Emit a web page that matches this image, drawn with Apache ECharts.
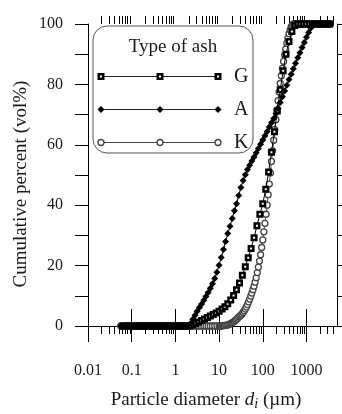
<!DOCTYPE html>
<html>
<head>
<meta charset="utf-8">
<script src="https://cdn.jsdelivr.net/npm/echarts@6/dist/echarts.min.js"></script>
<style>
  html, body { margin: 0; padding: 0; background: #fff; }
  #chart { width: 342px; height: 414px; }
</style>
</head>
<body>
<div id="chart"></div>
<script>
// particle diameters (um) and cumulative volume percent
const diamG = [0.0631, 0.0736, 0.0858,
  0.1, 0.117, 0.136, 0.158, 0.185, 0.215, 0.251, 0.293, 0.341, 0.398, 0.464, 0.541, 0.631, 0.736, 0.858,
  1, 1.17, 1.36, 1.58, 1.85, 2.15, 2.51, 2.93, 3.41, 3.98, 4.64, 5.41, 6.31, 7.36, 8.58,
  10, 11.7, 13.6, 15.8, 18.5, 21.5, 25.1, 29.3, 34.1, 39.8, 46.4, 54.1, 63.1, 73.6, 85.8,
  100, 117, 136, 158, 185, 215, 251, 293, 341, 398, 464, 541, 631, 736, 858,
  1000, 1170, 1360, 1580, 1850, 2150, 2510, 2930, 3410];
const cumG = [0, 0, 0,
  0, 0, 0, 0, 0, 0, 0, 0, 0, 0, 0, 0, 0, 0, 0,
  0, 0, 0, 0, 0, 0.1, 0.4, 0.8, 1.3, 1.8, 2.3, 2.8, 3.3, 3.8, 4.3,
  4.9, 5.6, 6.4, 7.4, 8.6, 10.1, 12.0, 14.2, 16.8, 19.6, 22.6, 25.7, 29.2, 33.2, 37.0,
  40.5, 45.3, 51.0, 57.5, 64.3, 71.2, 78.2, 84.5, 90.0, 94.2, 97.5, 99.5, 100, 100, 100,
  100, 100, 100, 100, 100, 100, 100, 100, 100];

const diamA = [0.0562, 0.0631, 0.0708, 0.0794, 0.0891,
  0.1, 0.112, 0.126, 0.141, 0.158, 0.178, 0.2, 0.224, 0.251, 0.282, 0.316, 0.355, 0.398, 0.447, 0.501, 0.562, 0.631, 0.708, 0.794, 0.891,
  1, 1.12, 1.26, 1.41, 1.58, 1.78, 2, 2.24, 2.51, 2.82, 3.16, 3.55, 3.98, 4.47, 5.01, 5.62, 6.31, 7.08, 7.94, 8.91,
  10, 11.2, 12.6, 14.1, 15.8, 17.8, 20, 22.4, 25.1, 28.2, 31.6, 35.5, 39.8, 44.7, 50.1, 56.2, 63.1, 70.8, 79.4, 89.1,
  100, 112, 126, 141, 158, 178, 200, 224, 251, 282, 316, 355, 398, 447, 501, 562, 631, 708, 794, 891,
  1000, 1120, 1260, 1410, 1580, 1780, 2000, 2240, 2510, 2820, 3160, 3550];
const cumA = [0, 0, 0, 0, 0,
  0, 0, 0, 0, 0, 0, 0, 0, 0, 0, 0, 0, 0, 0, 0, 0, 0, 0, 0, 0,
  0, 0, 0, 0, 0, 0, 0.1, 0.8, 2.2, 3.6, 4.9, 6.1, 7.3, 8.5, 9.8, 11.1, 12.5, 14.0, 15.7, 17.8,
  20.1, 22.7, 25.3, 28.0, 30.6, 33.0, 35.6, 38.2, 40.5, 43.2, 45.9, 48.2, 50.1, 51.8, 53.2, 54.6, 56.0, 57.4, 58.8, 60.2,
  61.6, 63.0, 64.4, 65.9, 67.3, 68.7, 70.3, 72.1, 74.0, 75.9, 77.8, 79.7, 81.6, 83.4, 85.2, 87.0, 88.8, 90.5, 92.2, 93.9,
  95.6, 97.2, 98.7, 99.8, 100, 100, 100, 100, 100, 100, 100, 100];

const diamK = [0.0562, 0.0631, 0.0708, 0.0794, 0.0891,
  0.1, 0.112, 0.126, 0.141, 0.158, 0.178, 0.2, 0.224, 0.251, 0.282, 0.316, 0.355, 0.398, 0.447, 0.501, 0.562, 0.631, 0.708, 0.794, 0.891,
  1, 1.12, 1.26, 1.41, 1.58, 1.78, 2, 2.24, 2.51, 2.82, 3.16, 3.55, 3.98, 4.47, 5.01, 5.62, 6.31, 7.08, 7.94, 8.91,
  10, 10.6, 11.2, 11.9, 12.6, 13.3, 14.1, 15, 15.8, 16.8, 17.8, 18.8, 20, 21.1, 22.4, 23.7, 25.1, 26.6, 28.2, 29.9,
  31.6, 33.5, 35.5, 37.6, 39.8, 42.2, 44.7, 47.3, 50.1, 53.1, 56.2, 59.6, 63.1, 66.8, 70.8, 75, 79.4, 84.1, 89.1, 94.4,
  100, 106, 112, 119, 126, 133, 141, 150, 158, 168, 178, 188, 200, 211, 224, 237, 251, 266, 282, 299,
  316, 335, 355, 376, 398, 422, 447, 473, 501, 531, 562,
  631, 708, 794, 891, 1000, 1120, 1260, 1410, 1580, 1780, 2000, 2240, 2510, 2820, 3160, 3550];
const cumK = [0, 0, 0, 0, 0,
  0, 0, 0, 0, 0, 0, 0, 0, 0, 0, 0, 0, 0, 0, 0, 0, 0, 0, 0, 0,
  0, 0, 0, 0, 0, 0, 0, 0, 0, 0, 0, 0, 0, 0, 0, 0, 0, 0, 0, 0,
  0, 0, 0, 0.1, 0.1, 0.2, 0.2, 0.3, 0.4, 0.5, 0.7, 0.9, 1.1, 1.3, 1.6, 1.9, 2.2, 2.6, 3.0, 3.3,
  3.6, 4.0, 4.5, 5.0, 5.6, 6.3, 7.1, 8.0, 8.9, 9.9, 10.9, 12.0, 13.2, 14.5, 16.0, 17.7, 19.5, 21.5, 23.6, 26.0,
  28.5, 31.2, 34.0, 37.0, 40.0, 43.5, 47.0, 50.7, 54.5, 58.0, 61.5, 65.0, 68.3, 71.5, 74.6, 77.5, 80.3, 82.9, 85.3, 87.6,
  89.7, 91.7, 93.6, 95.3, 96.8, 98.0, 99.0, 99.6, 100, 100, 100,
  100, 100, 100, 100, 100, 100, 100, 100, 100, 100, 100, 100, 100, 100, 100, 100];

const seriesNames = ['G', 'A', 'K'];
const xTickLabels = ['0.01', '0.1', '1', '10', '100', '1000'];
const yTickLabels = ['0', '20', '40', '60', '80', '100'];
// minor log ticks 2..9 in each decade
const minorMant = [2, 3, 4, 5, 6, 7, 8, 9];
const decades = [0.01, 0.1, 1, 10, 100, 1000];

const FONT = "'Liberation Serif', 'DejaVu Serif', serif";
const INK = '#1a1a1a';

const minorTicks = [];
decades.forEach(d => minorMant.forEach(m => { if (m * d < 5000) minorTicks.push([+(m * d).toPrecision(3), 0]); }));

const pairs = (xs, ys) => xs.map((x, i) => [x, ys[i]]);

const chart = echarts.init(document.getElementById('chart'), null, { renderer: 'canvas' });

const xBase = { type: 'log', min: 0.01, max: 5000, splitLine: { show: false } };
const axisLine = { show: true, lineStyle: { color: '#000', width: 1 } };

chart.setOption({
  animation: false,
  backgroundColor: '#fff',
  grid: { left: 88, top: 24, right: 5, bottom: 88 },
  xAxis: [
    {
      ...xBase,
      position: 'bottom',
      axisLine,
      axisTick: { show: true, inside: false, length: 16, lineStyle: { color: '#000' } },
      axisLabel: {
        margin: 37, fontSize: 16, fontFamily: FONT, color: INK, showMaxLabel: false,
        formatter: v => {
          const s = String(parseFloat(Number(v).toPrecision(3)));
          return xTickLabels.includes(s) ? s : '';
        }
      }
    },
    {
      ...xBase,
      position: 'top',
      axisLine,
      axisTick: { show: true, inside: false, length: 17, lineStyle: { color: '#000' } },
      axisLabel: { show: false }
    }
  ],
  yAxis: [
    {
      type: 'value', min: 0, max: 100, interval: 10, position: 'left',
      splitLine: { show: false },
      axisLine,
      axisTick: { show: true, inside: false, length: 13, lineStyle: { color: '#000' } },
      axisLabel: {
        margin: 25, fontSize: 16, fontFamily: FONT, color: INK,
        formatter: v => (yTickLabels.includes(String(v)) ? String(v) : '')
      }
    },
    {
      type: 'value', min: 0, max: 100, interval: 10, position: 'right',
      splitLine: { show: false },
      axisLine,
      axisTick: { show: true, inside: false, length: 5, lineStyle: { color: '#000' } },
      axisLabel: { show: false }
    }
  ],
  graphic: [
    // axis titles
    { type: 'text', z: 1, x: 21, y: 184, rotation: Math.PI / 2,
      style: { text: 'Cumulative percent (vol%)', font: '19px ' + FONT, fill: INK, textAlign: 'center', textVerticalAlign: 'middle' } },
    { type: 'text', z: 1, x: 206, y: 400,
      style: {
        text: 'Particle diameter {i|d}{s|i} (\u00b5m)', font: '19px ' + FONT, fill: INK,
        textAlign: 'center', textVerticalAlign: 'middle',
        rich: {
          i: { font: 'italic 19px ' + FONT, fill: INK },
          s: { font: 'italic 14px ' + FONT, fill: INK, padding: [8, 0, 0, 0] }
        }
      } },
    // legend box
    { type: 'rect', z: 1, shape: { x: 93, y: 26, width: 160, height: 127, r: 14 },
      style: { fill: '#fff', stroke: '#555', lineWidth: 1 } },
    { type: 'text', z: 1, x: 173, y: 47,
      style: { text: 'Type of ash', font: '19px ' + FONT, fill: INK, textAlign: 'center', textVerticalAlign: 'middle' } },
    // G row
    { type: 'line', z: 1, shape: { x1: 101, y1: 76.5, x2: 218, y2: 76.5 }, style: { stroke: '#222', lineWidth: 1 } },
    ...[101, 160, 218].map(x => ({ type: 'rect', z: 1, shape: { x: x - 2.25, y: 74.25, width: 4.5, height: 4.5 },
      style: { fill: '#fff', stroke: '#000', lineWidth: 2.5 } })),
    // A row
    { type: 'line', z: 1, shape: { x1: 101, y1: 109.5, x2: 218, y2: 109.5 }, style: { stroke: '#222', lineWidth: 1 } },
    ...[101, 160, 218].map(x => ({ type: 'polygon', z: 1,
      shape: { points: [[x, 106], [x + 3.5, 109.5], [x, 113], [x - 3.5, 109.5]] }, style: { fill: '#000' } })),
    // K row
    { type: 'line', z: 1, shape: { x1: 101, y1: 142.5, x2: 218, y2: 142.5 }, style: { stroke: '#444', lineWidth: 1 } },
    ...[101, 160, 218].map(x => ({ type: 'circle', z: 1, shape: { cx: x, cy: 142.5, r: 3 },
      style: { fill: '#fff', stroke: '#444', lineWidth: 1.3 } })),
    ...seriesNames.map((n, i) => ({ type: 'text', z: 1, x: 234, y: [77, 110, 143][i],
      style: { text: n, font: '20px ' + FONT, fill: INK, textAlign: 'left', textVerticalAlign: 'middle' } }))
  ],
  series: [
    {
      name: 'minor ticks', type: 'custom', silent: true, clip: false, z: 1,
      data: minorTicks,
      renderItem: (params, api) => {
        const v = api.value(0);
        const b = api.coord([v, 0]);
        const t = api.coord([v, 100]);
        const x = Math.round(b[0]) + 0.5;
        const st = { stroke: '#000', lineWidth: 1 };
        return {
          type: 'group',
          children: [
            { type: 'line', shape: { x1: x, y1: b[1], x2: x, y2: b[1] + 8 }, style: st },
            { type: 'line', shape: { x1: x, y1: t[1], x2: x, y2: t[1] - 8 }, style: st }
          ]
        };
      }
    },
    {
      name: 'K', type: 'line', z: 3, data: pairs(diamK, cumK),
      symbol: 'circle', symbolSize: 6, showSymbol: true,
      lineStyle: { color: '#444', width: 1 },
      itemStyle: { color: '#fff', borderColor: '#444', borderWidth: 1.3 }
    },
    {
      name: 'G', type: 'line', z: 4, data: pairs(diamG, cumG),
      symbol: 'rect', symbolSize: 4.5, showSymbol: true,
      lineStyle: { color: '#000', width: 1 },
      itemStyle: { color: '#fff', borderColor: '#000', borderWidth: 2.5 }
    },
    {
      name: 'A', type: 'line', z: 5, data: pairs(diamA, cumA),
      symbol: 'diamond', symbolSize: [7, 7], showSymbol: true,
      lineStyle: { color: '#000', width: 1 },
      itemStyle: { color: '#000' }
    }
  ]
});
</script>
</body>
</html>
